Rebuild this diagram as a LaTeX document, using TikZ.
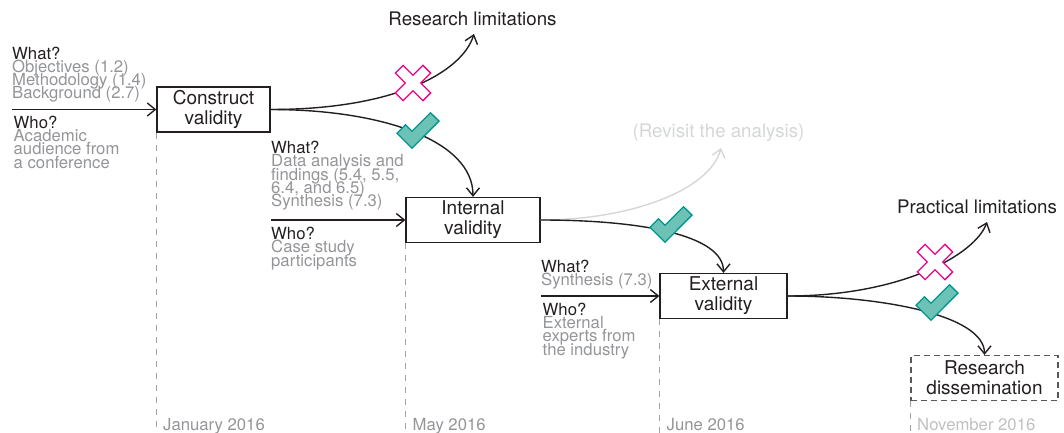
\documentclass[tikz,border=0pt]{standalone}
\usepackage{fontspec}
\setmainfont{TeX Gyre Heros}
\usetikzlibrary{arrows.meta}
\definecolor{ink}{RGB}{35,31,32}
\definecolor{greytxt}{RGB}{147,149,152}
\definecolor{paletxt}{RGB}{212,214,215}
\definecolor{novtxt}{RGB}{190,192,194}
\definecolor{tealfill}{RGB}{108,195,181}
\definecolor{tealdark}{RGB}{0,150,143}
\definecolor{pinkc}{RGB}{236,0,140}
\definecolor{vlinec}{RGB}{160,162,165}
\newcommand\mytightlines{\fontsize{16.7}{13.3}\selectfont\lineskiplimit=-40pt\relax\lineskip=0pt\relax}
\begin{document}
\begin{tikzpicture}[x=1pt,y=-1pt,
  box/.style={draw=ink, line width=1.2pt, inner sep=0pt, align=center, minimum height=45pt, text=ink, font=\fontsize{19}{20}\selectfont},
  dbox/.style={box, draw=ink!75, dash pattern=on 6pt off 4pt},
  big/.style={inner sep=0pt, anchor=base, text=ink, font=\fontsize{18.7}{20}\selectfont},
  small/.style={inner sep=0pt, anchor=base west, align=left, text=greytxt, font=\mytightlines},
  datetxt/.style={inner sep=0pt, anchor=base west, text=greytxt, font=\fontsize{16.7}{13.3}\selectfont},
  arr/.style={draw=ink, line width=1.4pt, -{Straight Barb[length=8pt,width=13pt,line width=1.4pt]}},
  palearr/.style={arr, draw=paletxt},
  timeline/.style={draw=vlinec, line width=1pt, dash pattern=on 6pt off 6pt},
  checkmark/.pic={\filldraw[fill=tealfill, draw=tealdark, line width=1.3pt, line join=miter]
     (-21,2.2) -- (-6,17.2) -- (21,-9.9) -- (12.5,-18.3) -- (-6,0.2) -- (-12.5,-6.3) -- cycle;},
  crossmark/.pic={\filldraw[fill=white, draw=pinkc, line width=1.3pt, line join=miter, rotate=45]
     (5.5,19.5) -- (5.5,5.5) -- (19.5,5.5) -- (19.5,-5.5) -- (5.5,-5.5) -- (5.5,-19.5) --
     (-5.5,-19.5) -- (-5.5,-5.5) -- (-19.5,-5.5) -- (-19.5,5.5) -- (-5.5,5.5) -- (-5.5,19.5) -- cycle;}
]
\useasboundingbox (0,0) rectangle (1064,433);
\coordinate (bot) at (0,433);

% boxes
\node[box, minimum width=113pt] (con) at (213.5,109.5) {Construct\\validity};
\node[box, minimum width=134pt] (int) at (473,220) {Internal\\validity};
\node[box, minimum width=127pt] (ext) at (723.5,296) {External\\validity};
\node[dbox, minimum width=147pt] (dis) at (984.5,378) {Research\\dissemination};

% timelines
\draw[timeline] (con.south west) -- (con.south west |- bot);
\draw[timeline] (int.south west) -- (int.south west |- bot);
\draw[timeline] (ext.south west) -- (ext.south west |- bot);
\draw[timeline] (dis.south west) -- (dis.south west |- bot);

% dates
\node[datetxt] (d1) at (163,430) {January 2016};
\node[datetxt] (d2) at (412.5,430) {May 2016};
\node[datetxt] (d3) at (666.5,430) {June 2016};
\node[datetxt, text=novtxt] (d4) at (917,430) {November 2016};

% labels
\node[big] (rlt) at (472.5,26) {Research limitations};
\node[big] (plt) at (977,213.5) {Practical limitations};
\node[big, text=paletxt] (rev) at (718.5,137) {(Revisit the analysis)};

% what / who texts (anchored at the baseline of the last line)
\node[small] (w1) at (12,99) {{\color{ink}What?}\\Objectives (1.2)\\Methodology (1.4)\\Background (2.7)};
\node[small] (h1) at (13.5,168) {{\color{ink}Who?}\\Academic\\audience from\\a conference};
\node[small] (w2) at (271,206.7) {{\color{ink}What?}\\Data analysis and\\findings (5.4, 5.5,\\6.4, and 6.5)\\Synthesis (7.3)};
\node[small] (h2) at (271,266) {{\color{ink}Who?}\\Case study\\participants};
\node[small] (w3) at (541,285.7) {{\color{ink}What?}\\Synthesis (7.3)};
\node[small] (h3) at (542.5,355) {{\color{ink}Who?}\\External\\experts from\\the industry};

% free ends
\coordinate (in1) at (12,109.5);
\coordinate (in2) at (271,220);
\coordinate (in3) at (541,296);
\coordinate (rl) at (474,34);
\coordinate (rv) at (721,148);
\coordinate (pl) at (987,222);

% straight inputs
\draw[arr] (in1) -- (con.west);
\draw[arr] (in2) -- (int.west);
\draw[arr] (in3) -- (ext.west);

% curves
\draw[arr] (con.east) .. controls +(125,0) and +(-12,38) .. (rl);
\draw[arr] (con.east) .. controls +(110,0) and +(0,-57) .. (int.north);
\draw[palearr] (int.east) .. controls +(90,0) and +(-11,42) .. (rv);
\draw[arr] (int.east) .. controls +(100,0) and +(0,-38) .. (ext.north);
\draw[arr] (ext.east) .. controls +(113,0) and +(-12,33) .. (pl);
\draw[arr] (ext.east) .. controls +(93,0) and +(0,-40) .. (dis.north);

% marks
\pic at (413,83) {crossmark};
\pic at (418,131) {checkmark};
\pic at (671,225) {checkmark};
\pic at (935,262) {crossmark};
\pic at (937,303) {checkmark};
\end{tikzpicture}
\end{document}
